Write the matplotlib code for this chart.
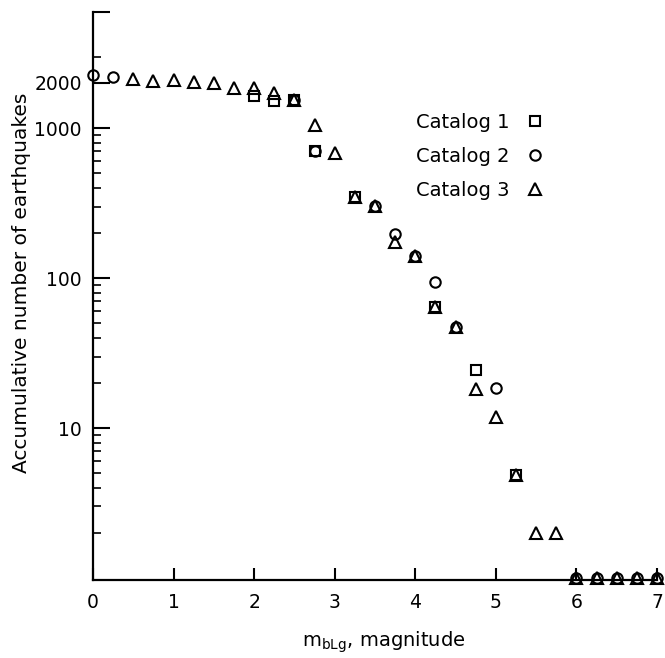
import matplotlib
matplotlib.use("Agg")
import matplotlib.pyplot as plt
from matplotlib.ticker import FixedLocator, FixedFormatter, NullFormatter

# Catalog 1 (Quadrate)
cat1_mag = [2.0, 2.25, 2.5, 2.75, 3.25, 4.25, 4.75, 5.25]
cat1_n = [1635, 1514, 1537, 703, 347, 64, 24.4, 4.9]

# Catalog 2 (Kreise)
cat2_mag = [0.0, 0.25, 2.5, 2.75, 3.5, 3.75, 4.0, 4.25, 4.5, 5.0, 6.0, 6.25, 6.5, 6.75, 7.0]
cat2_n = [2256, 2188, 1537, 703, 302, 196, 140, 94, 47, 18.5, 1, 1, 1, 1, 1]

# Catalog 3 (Dreiecke)
cat3_mag = [0.5, 0.75, 1.0, 1.25, 1.5, 1.75, 2.0, 2.25, 2.5, 2.75, 3.0, 3.25, 3.5, 3.75,
            4.0, 4.25, 4.5, 4.75, 5.0, 5.25, 5.5, 5.75, 6.0, 6.25, 6.5, 6.75, 7.0]
cat3_n = [2122, 2058, 2089, 2025, 1995, 1848, 1848, 1710, 1537, 1047, 681, 347, 302, 173,
          140, 64, 47, 18.2, 11.9, 4.9, 2.0, 2.0, 1, 1, 1, 1, 1]

x_ticks = [0, 1, 2, 3, 4, 5, 6, 7]
y_major = [10, 100, 1000, 2000]
y_major_labels = ["10", "100", "1000", "2000"]
y_minor = [2, 3, 4, 5, 6, 7, 8, 9, 20, 30, 40, 50, 60, 70, 80, 90,
           200, 300, 400, 500, 600, 700, 800, 900, 3000]

y_lo, y_hi = 0.97, 5950

fig = plt.figure(figsize=(6.65, 6.58), dpi=100)
ax = fig.add_axes([0.1398, 0.1185, 0.8482, 0.8633])

mk = dict(linestyle="none", markerfacecolor="none", markeredgecolor="black",
          markeredgewidth=1.5, clip_on=False)
ax.plot(cat1_mag, cat1_n, marker="s", markersize=7, label="Catalog 1", **mk)
ax.plot(cat2_mag, cat2_n, marker="o", markersize=7.5, label="Catalog 2", **mk)
ax.plot(cat3_mag, cat3_n, marker="^", markersize=8, label="Catalog 3", **mk)

ax.set_yscale("log")
ax.set_xlim(0, 7)
ax.set_ylim(y_lo, y_hi)

ax.yaxis.set_major_locator(FixedLocator(y_major + [y_hi]))
ax.yaxis.set_major_formatter(FixedFormatter(y_major_labels + [""]))
ax.yaxis.set_minor_locator(FixedLocator(y_minor))
ax.yaxis.set_minor_formatter(NullFormatter())
ax.set_xticks(x_ticks)
ax.set_xticklabels([str(t) for t in x_ticks])

for s in ["top", "right"]:
    ax.spines[s].set_visible(False)
for s in ["left", "bottom"]:
    ax.spines[s].set_linewidth(1.6)

ax.tick_params(axis="y", which="major", direction="in", length=12, width=1.5,
               pad=8, labelsize=13.5)
ax.tick_params(axis="y", which="minor", direction="in", length=6, width=1.2)
ax.tick_params(axis="x", which="major", direction="in", length=9, width=1.5,
               pad=9, labelsize=13.5)

fig.text(0.033, 0.57, "Accumulative number of earthquakes", rotation=90,
         ha="center", va="center", fontsize=14.5)
fig.text(0.577, 0.024, r"$\mathregular{m_{bLg}}$, magnitude",
         ha="center", va="center", fontsize=14)

ax.legend(loc="upper left", bbox_to_anchor=(0.6, 0.855), bbox_transform=fig.transFigure,
          frameon=False, markerfirst=False, fontsize=14, handlelength=1.0,
          handletextpad=0.8, labelspacing=0.78)

fig.savefig("out.png", dpi=100)
